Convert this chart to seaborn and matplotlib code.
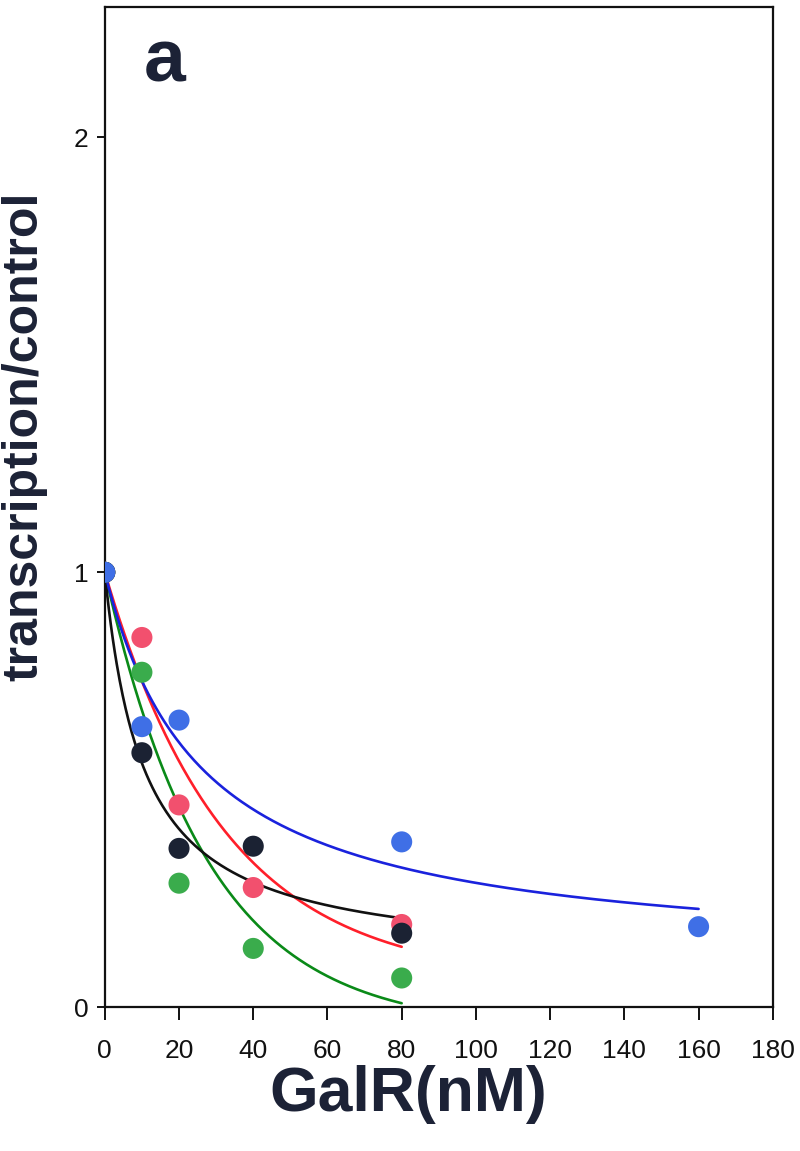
import numpy as np
import pandas as pd
import matplotlib
matplotlib.use("Agg")
import matplotlib.pyplot as plt
import seaborn as sns

# ---- data ----
conc_short = [0, 10, 20, 40, 80]
conc_blue = [0, 10, 20, 80, 160]
blue_vals = [1.00, 0.645, 0.66, 0.38, 0.185]
red_vals = [1.00, 0.85, 0.465, 0.275, 0.19]
green_vals = [1.00, 0.77, 0.285, 0.135, 0.067]
black_vals = [1.00, 0.585, 0.365, 0.37, 0.17]

# fitted-curve parameters
# hyperbolic: y = a + (1-a)*K/(K+x) ; exponential: y = a + (1-a)*exp(-k*x)
blue_fit = {"kind": "hyp", "a": 0.10, "p": 26.0, "xmax": 160}
black_fit = {"kind": "hyp", "a": 0.10, "p": 10.5, "xmax": 80}
red_fit = {"kind": "exp", "a": 0.06, "p": 0.031, "xmax": 80}
green_fit = {"kind": "exp", "a": -0.05, "p": 0.036, "xmax": 80}

series_names = ["red", "green", "black", "blue"]
dot_colors = {"red": "#f2506e", "green": "#3aac4c", "black": "#1b2233", "blue": "#3f6fe6"}
line_colors = {"red": "#ff1f2a", "green": "#0a8a18", "black": "#111111", "blue": "#1a22dd"}

x_ticks = [0, 20, 40, 60, 80, 100, 120, 140, 160, 180]
y_ticks = [0, 1, 2]


def curve(fit):
    x = np.linspace(0, fit["xmax"], 300)
    a, p = fit["a"], fit["p"]
    if fit["kind"] == "hyp":
        y = a + (1 - a) * p / (p + x)
    else:
        y = a + (1 - a) * np.exp(-p * x)
    return x, y


pts = pd.concat([
    pd.DataFrame({"x": conc_short, "y": red_vals, "s": "red"}),
    pd.DataFrame({"x": conc_short, "y": green_vals, "s": "green"}),
    pd.DataFrame({"x": conc_short, "y": black_vals, "s": "black"}),
    pd.DataFrame({"x": conc_blue, "y": blue_vals, "s": "blue"}),
], ignore_index=True)

fits = {"red": red_fit, "green": green_fit, "black": black_fit, "blue": blue_fit}
curves = []
for name, fit in fits.items():
    cx, cy = curve(fit)
    curves.append(pd.DataFrame({"x": cx, "y": cy, "s": name}))
curves = pd.concat(curves, ignore_index=True)

sns.set_style("ticks")
plt.rcParams["font.family"] = ["Liberation Sans", "DejaVu Sans"]

fig = plt.figure(figsize=(8, 11.51), dpi=100)
ax = fig.add_axes([0.131, 0.125, 0.835, 0.869])

sns.lineplot(data=curves, x="x", y="y", hue="s", palette=line_colors,
             hue_order=["green", "red", "black", "blue"], linewidth=1.9,
             legend=False, ax=ax, sort=False, estimator=None)
for name in series_names:
    sub = pts[pts["s"] == name]
    sns.scatterplot(data=sub, x="x", y="y", color=dot_colors[name], s=230,
                    edgecolor="none", ax=ax, legend=False, zorder=5)

ax.set_xlim(0, 180)
ax.set_ylim(0, 2.3)
ax.set_xticks(x_ticks)
ax.set_yticks(y_ticks)
ax.set_xticklabels([str(v) for v in x_ticks])
ax.set_yticklabels([str(v) for v in y_ticks])
ax.tick_params(axis="x", direction="out", length=9, width=1.4, pad=14, labelsize=19, colors="#111111")
ax.tick_params(axis="y", direction="out", length=6, width=1.4, pad=6, labelsize=19, colors="#111111")
for sp in ax.spines.values():
    sp.set_linewidth(1.6)
    sp.set_color("#111111")
    sp.set_visible(True)

ax.set_xlabel("GalR(nM)", fontsize=45, fontweight="bold", color="#1c2236", va="center")
ax.xaxis.set_label_coords(0.454, -0.087)
ax.set_ylabel("transcription/control", fontsize=36, fontweight="bold", color="#1c2236",
              va="center", ha="center")
ax.yaxis.set_label_coords(-0.121, 0.571)

ax.text(0.09, 0.925, "a", transform=ax.transAxes, fontsize=54, fontweight="bold",
        color="#1c2236", ha="center", va="baseline")

fig.savefig("out.png", dpi=100, facecolor="white")
